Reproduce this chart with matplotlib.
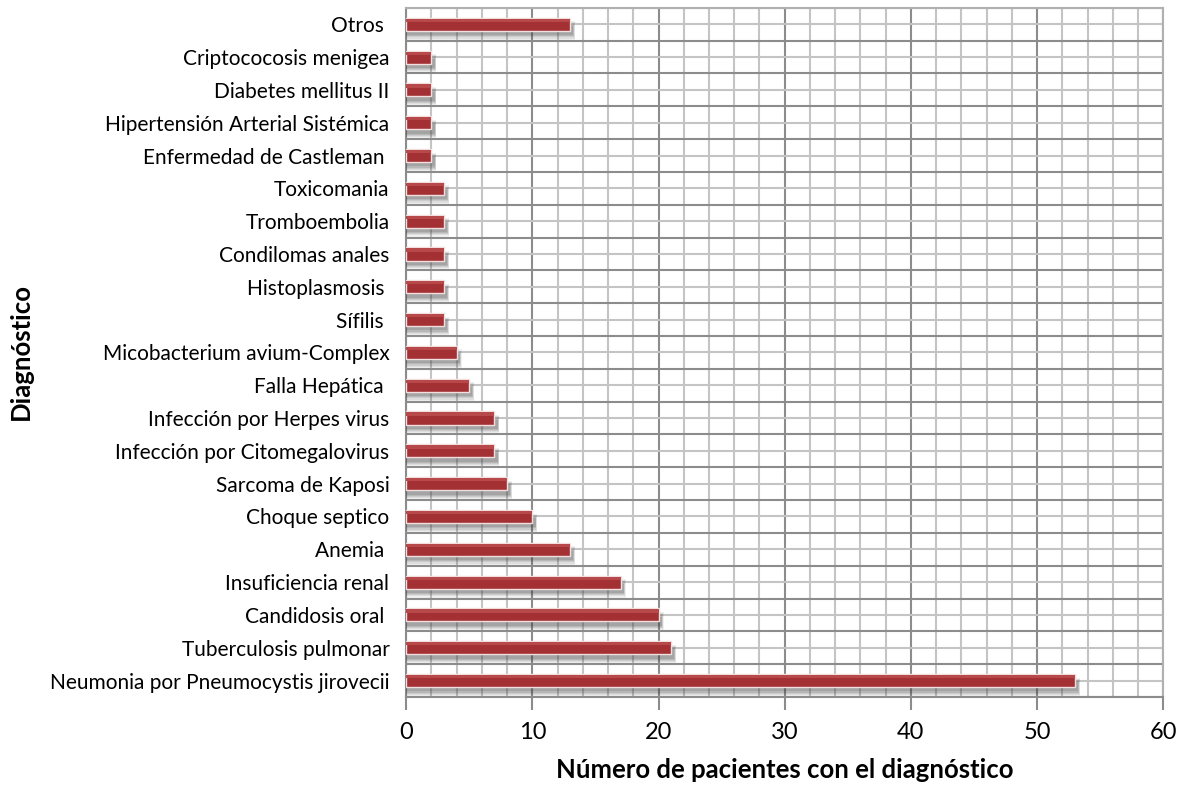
import numpy as np
import matplotlib.pyplot as plt
from matplotlib.ticker import MultipleLocator, FixedLocator

# Diagnósticos (de arriba hacia abajo) y número de pacientes
diagnosticos = [
    "Otros ",
    "Criptococosis menigea",
    "Diabetes mellitus II",
    "Hipertensión Arterial Sistémica",
    "Enfermedad de Castleman ",
    "Toxicomania",
    "Tromboembolia",
    "Condilomas anales",
    "Histoplasmosis ",
    "Sífilis ",
    "Micobacterium avium-Complex",
    "Falla Hepática ",
    "Infección por Herpes virus",
    "Infección por Citomegalovirus",
    "Sarcoma de Kaposi",
    "Choque septico",
    "Anemia ",
    "Insuficiencia renal",
    "Candidosis oral ",
    "Tuberculosis pulmonar",
    "Neumonia por Pneumocystis jirovecii",
]
pacientes = [13, 2, 2, 2, 2, 3, 3, 3, 3, 3, 4, 5, 7, 7, 8, 10, 13, 17, 20, 21, 53]

plt.rcParams['font.family'] = ['Lato', 'DejaVu Sans']

fig = plt.figure(figsize=(11.84, 7.87), dpi=100)
ax = fig.add_axes([0.343, 0.1144, 0.6395, 0.8756])

n = len(diagnosticos)
y = np.arange(n)
alto = 0.40
valores = np.array(pacientes)

# sombra difusa debajo de cada barra
for k, a in enumerate([0.08, 0.10, 0.12, 0.14, 0.16]):
    d = 0.035 * k
    ax.barh(y + 0.19, valores + 0.4 - d, height=alto + 0.16 - 2 * d,
            left=0, color='#444444', alpha=a, linewidth=0, zorder=3)

# barras principales
ax.barh(y, valores, height=alto, color='#a33033', edgecolor='#f2dede',
        linewidth=1.0, zorder=4)
# brillo en la parte superior de la barra
ax.barh(y - alto * 0.30, valores, height=alto * 0.25, color='#b8494b',
        linewidth=0, zorder=5)

ax.set_xlim(0, 60)
ax.set_ylim(n - 0.5, -0.5)

ax.xaxis.set_major_locator(MultipleLocator(10))
ax.xaxis.set_minor_locator(MultipleLocator(2))
ax.set_yticks(y)
ax.set_yticklabels(diagnosticos, fontsize=15)
ax.yaxis.set_minor_locator(FixedLocator(np.arange(n + 1) - 0.5))

ax.xaxis.grid(True, which='major', color='#8c8c8c', linewidth=1.5, zorder=0)
ax.xaxis.grid(True, which='minor', color='#c4c4c4', linewidth=1.5, zorder=0)
ax.yaxis.grid(True, which='minor', color='#8c8c8c', linewidth=1.5, zorder=0)
ax.yaxis.grid(True, which='major', color='#c4c4c4', linewidth=1.5, zorder=0)
ax.set_axisbelow(True)

ax.tick_params(axis='y', which='both', length=0, pad=12)
ax.tick_params(axis='x', which='major', length=9, width=1.5, color='#8c8c8c',
               labelsize=17, pad=9)
ax.tick_params(axis='x', which='minor', length=0)

for lado in ['top', 'right']:
    ax.spines[lado].set_color('#b0b0b0')
    ax.spines[lado].set_linewidth(1.5)
for lado in ['left', 'bottom']:
    ax.spines[lado].set_color('#8c8c8c')
    ax.spines[lado].set_linewidth(1.5)

fig.text(0.663, 0.022, "Número de pacientes con el diagnóstico", fontsize=18.5,
         fontweight='bold', va='center', ha='center')
fig.text(0.018, 0.553, "Diagnóstico", rotation=90, fontsize=18.5,
         fontweight='bold', va='center', ha='center')

fig.savefig("out.png", dpi=100)
